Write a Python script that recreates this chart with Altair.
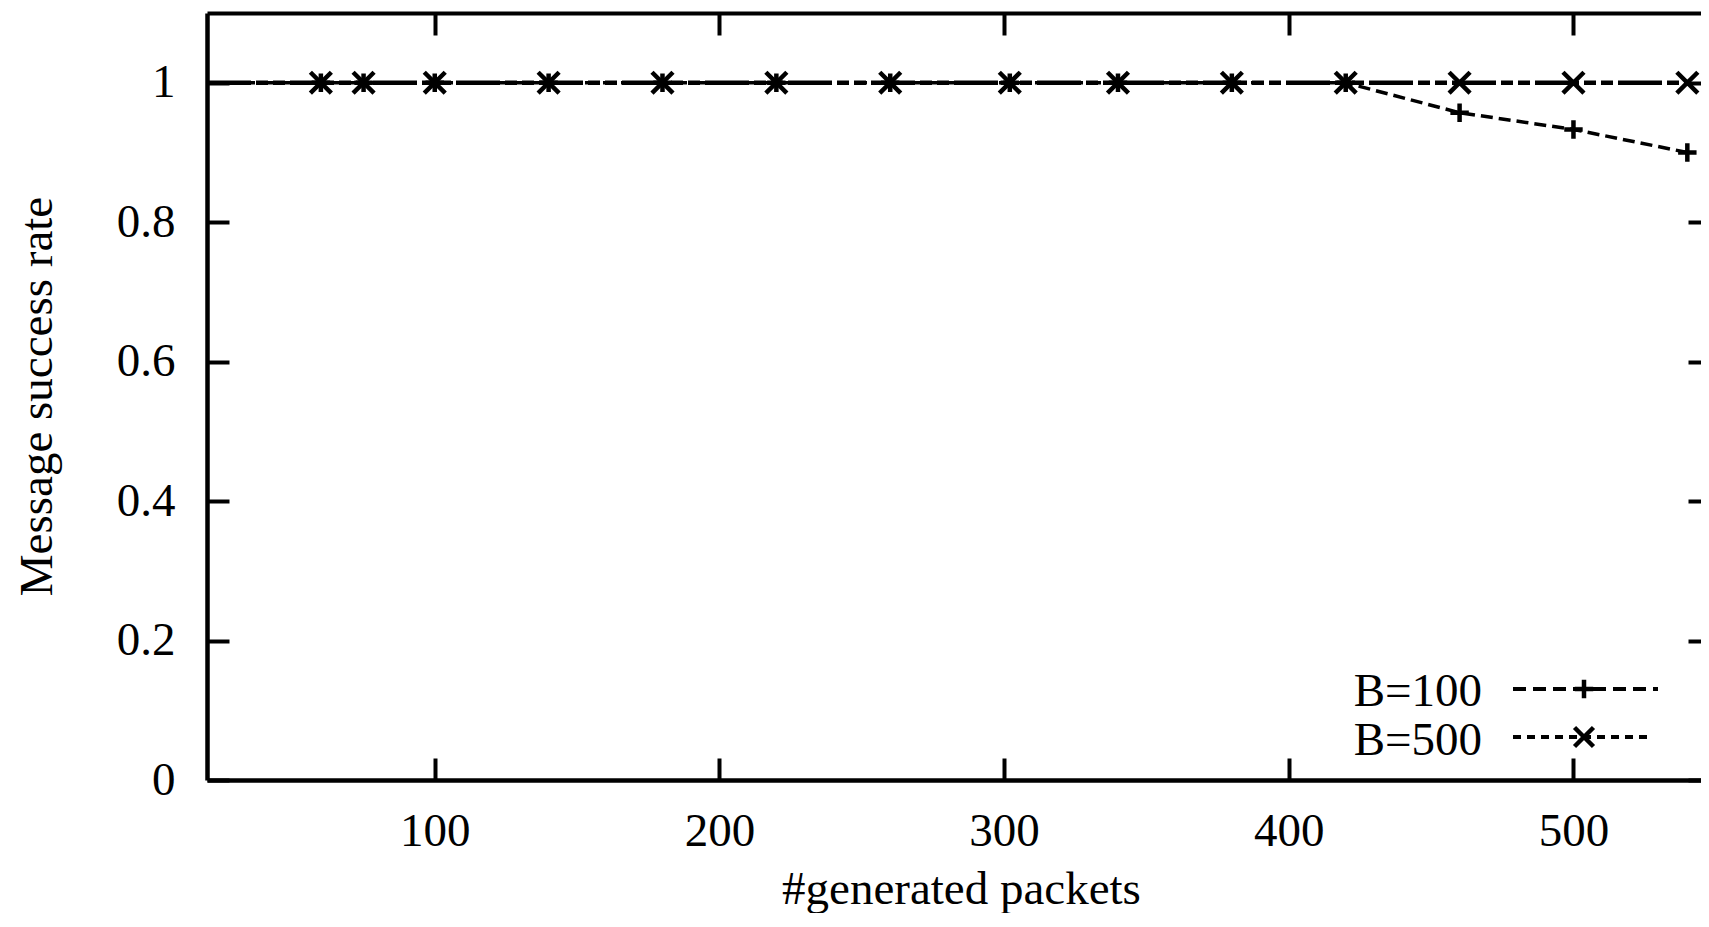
import altair as alt
import pandas as pd

# ---- data ----
packets = [20, 60, 75, 100, 140, 180, 220, 260, 302, 340, 380, 420, 460, 500, 540]
rate_b100 = [1, 1, 1, 1, 1, 1, 1, 1, 1, 1, 1, 1, 0.957, 0.933, 0.900]
rate_b500 = [1, 1, 1, 1, 1, 1, 1, 1, 1, 1, 1, 1, 1, 1, 1]
series_names = ["B=100", "B=500"]
x_ticks = [100, 200, 300, 400, 500]
y_ticks = [0, 0.2, 0.4, 0.6, 0.8, 1]

# ---- styling / layout ----
W, H = 1494, 767
XDOM = [20, 544.8]
YDOM = [0, 1.1]
FONT = "Liberation Serif"
FS = 47
PLUS = "M-1,0L1,0M0,-1L0,1"
CROSS = "M-1,-1L1,1M-1,1L1,-1"

df100 = pd.DataFrame({"packets": packets, "rate": rate_b100, "series": series_names[0]})
df500 = pd.DataFrame({"packets": packets, "rate": rate_b500, "series": series_names[1]})

xs = alt.Scale(domain=XDOM, nice=False, zero=False)
ys = alt.Scale(domain=YDOM, nice=False, zero=False)

def xq(axis):
    return alt.X("packets:Q", scale=xs, axis=axis, title=None)

def yq(axis):
    return alt.Y("rate:Q", scale=ys, axis=axis, title=None)

# main axes: labels, titles, left and bottom borders
x_main = alt.Axis(orient="bottom", values=x_ticks, ticks=False, tickSize=0, domain=True,
                  domainWidth=4.5, domainColor="black", grid=False,
                  labelFont=FONT, labelFontSize=FS, labelColor="black", labelPadding=65,
                  labelBaseline="alphabetic", labelFlush=False, labelOverlap=False,
                  title="#generated packets", titleFont=FONT, titleFontSize=FS,
                  titleFontWeight="normal", titleColor="black", titleBaseline="alphabetic",
                  titleAlign="center", titleX=754, titleY=123)
y_main = alt.Axis(orient="left", values=y_ticks, format="~g", ticks=False, tickSize=0,
                  domain=True, domainWidth=4.5, domainColor="black", grid=False,
                  labelFont=FONT, labelFontSize=FS, labelColor="black", labelPadding=32,
                  labelBaseline="middle", labelFlush=False, labelOverlap=False,
                  title="Message success rate", titleFont=FONT, titleFontSize=FS,
                  titleFontWeight="normal", titleColor="black", titleAngle=270,
                  titleBaseline="alphabetic", titleAlign="center", titleX=-156, titleY=383)

main_layer = alt.Chart(df500).mark_line(strokeOpacity=0).encode(x=xq(x_main), y=yq(y_main))

# inward ticks (gnuplot style) and top border
def tick_axis_x(orient, domain):
    return alt.Axis(orient=orient, offset=-H, values=x_ticks, labels=False, domain=domain,
                    domainWidth=4, domainColor="black", ticks=True, tickSize=22,
                    tickWidth=4, tickColor="black", grid=False)

def tick_axis_y(orient, size):
    return alt.Axis(orient=orient, offset=-W, values=y_ticks, labels=False, domain=False,
                    ticks=True, tickSize=size, tickWidth=4, tickColor="black", grid=False)

top_ticks = alt.Chart(df500).mark_line(strokeOpacity=0).encode(
    x=xq(tick_axis_x("bottom", True)), y=yq(None))
bottom_ticks = alt.Chart(df500).mark_line(strokeOpacity=0).encode(
    x=xq(tick_axis_x("top", False)), y=yq(None))
left_ticks = alt.Chart(df500).mark_line(strokeOpacity=0).encode(
    x=xq(None), y=yq(tick_axis_y("right", 22)))
right_ticks = alt.Chart(df500).mark_line(strokeOpacity=0).encode(
    x=xq(None), y=yq(tick_axis_y("left", 13)))

# data series
line100 = alt.Chart(df100).mark_line(color="black", strokeWidth=3.5, strokeDash=[12, 6],
                                     clip=True).encode(x=xq(None), y=yq(None))
pts100 = alt.Chart(df100).transform_filter("datum.packets > 20").mark_point(
    shape=PLUS, filled=False, size=340, strokeWidth=4.5, color="black", opacity=1,
    clip=True).encode(x=xq(None), y=yq(None))
line500 = alt.Chart(df500).mark_line(color="black", strokeWidth=4.5,
                                     strokeDash=[44, 5, 12, 5, 12, 5],
                                     clip=True).encode(x=xq(None), y=yq(None))
pts500 = alt.Chart(df500).transform_filter("datum.packets > 20").mark_point(
    shape=CROSS, filled=False, size=440, strokeWidth=4.5, color="black", opacity=1,
    clip=True).encode(x=xq(None), y=yq(None))

# legend (gnuplot style: label left, sample right)
def legend_entry(name, ty, line_y, x2, dash, shape, size):
    d = pd.DataFrame({"label": [name]})
    txt = alt.Chart(d).mark_text(font=FONT, fontSize=FS, color="black", align="right",
                                 baseline="alphabetic").encode(
        text="label:N", x=alt.value(1275), y=alt.value(ty))
    rule = alt.Chart(d).mark_rule(color="black", strokeWidth=4, strokeDash=dash).encode(
        x=alt.value(1306), x2=alt.value(x2), y=alt.value(line_y))
    mk = alt.Chart(d).mark_point(shape=shape, filled=False, size=size, strokeWidth=4.5,
                                 color="black", opacity=1).encode(
        x=alt.value(1377), y=alt.value(line_y))
    return [txt, rule, mk]

legend_layers = (legend_entry(series_names[0], 693, 676, 1451, [13, 7], PLUS, 340)
                 + legend_entry(series_names[1], 742, 724, 1441, [8, 6], CROSS, 360))

chart = alt.layer(
    main_layer, top_ticks, bottom_ticks, left_ticks, right_ticks,
    line100, line500, pts100, pts500, *legend_layers
).resolve_axis(x="independent", y="independent").properties(
    width=W, height=H,
    autosize=alt.AutoSizeParams(type="none"),
    padding={"left": 199, "top": 5, "right": 0, "bottom": 133},
    background="white",
).configure_view(strokeWidth=0)

chart.save("out.html", embed_options={"renderer": "svg", "actions": False})
